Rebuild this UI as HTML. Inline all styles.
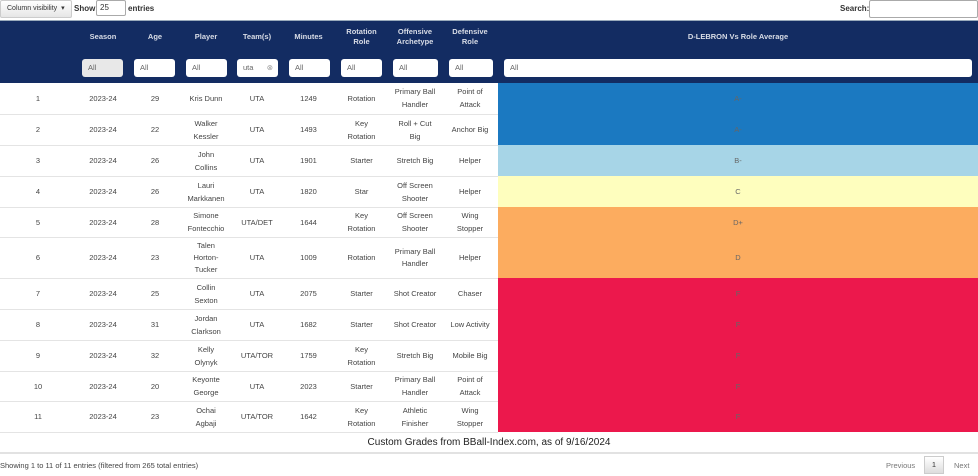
<!DOCTYPE html>
<html><head><meta charset="utf-8"><style>
*{box-sizing:border-box;margin:0;padding:0}
body{width:978px;height:476px;overflow:hidden;background:#fff;font-family:"Liberation Sans",Arial,sans-serif;font-size:8px;color:#333;position:relative}
.a{position:absolute}
.btn{left:0;top:0;width:72px;height:18px;border:1px solid #ccc;background:linear-gradient(#fff,#e6e6e6);border-radius:2px;font-size:7px;line-height:16px;padding-left:6px;color:#333}
.inp{background:#fff;border:1px solid #aaa;border-radius:2px}
.hdr{left:0;top:20px;width:978px;height:63px;background:#132c62;border-top:1px solid #9ab}
.h{color:#d8dce6;font-weight:bold;font-size:7.5px;text-align:center;line-height:10px}
.f{top:59px;height:18px;background:#fff;border-radius:3px;color:#666;font-size:7.5px;line-height:18px;padding-left:6px}
table{position:absolute;left:0;top:83px;border-collapse:collapse;table-layout:fixed;width:978px}
td{text-align:center;vertical-align:middle;font-size:7.5px;line-height:13px;color:#444;border-bottom:1px solid #e4e4e4;padding:0 1px;white-space:nowrap}
tr.t td{line-height:12px}
td.g{color:#666;border-bottom:none}
</style></head><body>
<div class="a btn">Column visibility &nbsp;▾</div>
<div class="a" style="left:74px;top:4px;font-size:8px;font-weight:bold">Show</div>
<div class="a inp" style="left:96px;top:0;width:30px;height:16px;font-size:8px;padding:2px 3px">25</div>
<div class="a" style="left:128px;top:4px;font-size:8px;font-weight:bold">entries</div>
<div class="a" style="left:840px;top:4px;font-size:8px;font-weight:bold">Search:</div>
<div class="a inp" style="left:869px;top:0;width:109px;height:18px"></div>
<div class="a hdr"></div>
<div class="a h" style="left:76px;top:32px;width:54px">Season</div>
<div class="a h" style="left:130px;top:32px;width:50px">Age</div>
<div class="a h" style="left:180px;top:32px;width:52px">Player</div>
<div class="a h" style="left:232px;top:32px;width:50px">Team(s)</div>
<div class="a h" style="left:282px;top:32px;width:53px">Minutes</div>
<div class="a h" style="left:335px;top:27px;width:53px">Rotation<br>Role</div>
<div class="a h" style="left:388px;top:27px;width:54px">Offensive<br>Archetype</div>
<div class="a h" style="left:442px;top:27px;width:56px">Defensive<br>Role</div>
<div class="a h" style="left:498px;top:32px;width:480px">D-LEBRON Vs Role Average</div>
<div class="a f" style="left:82px;width:41px;background:#e8e8e8">All</div>
<div class="a f" style="left:134px;width:41px">All</div>
<div class="a f" style="left:186px;width:41px">All</div>
<div class="a f" style="left:237px;width:41px">uta <span style="position:absolute;right:5px;color:#999">⊗</span></div>
<div class="a f" style="left:289px;width:41px">All</div>
<div class="a f" style="left:341px;width:41px">All</div>
<div class="a f" style="left:393px;width:45px">All</div>
<div class="a f" style="left:449px;width:44px">All</div>
<div class="a f" style="left:504px;width:468px">All</div>
<table>
<colgroup><col style="width:76px"><col style="width:54px"><col style="width:50px"><col style="width:52px"><col style="width:50px"><col style="width:53px"><col style="width:53px"><col style="width:54px"><col style="width:56px"><col style="width:480px"></colgroup>
<tr style="height:31px"><td>1</td><td>2023-24</td><td>29</td><td>Kris Dunn</td><td>UTA</td><td>1249</td><td>Rotation</td><td>Primary Ball<br>Handler</td><td>Point of<br>Attack</td><td class="g" style="background:#1b79c1">A-</td></tr>
<tr style="height:31px"><td>2</td><td>2023-24</td><td>22</td><td>Walker<br>Kessler</td><td>UTA</td><td>1493</td><td>Key<br>Rotation</td><td>Roll + Cut<br>Big</td><td>Anchor Big</td><td class="g" style="background:#1b79c1">A-</td></tr>
<tr style="height:31px"><td>3</td><td>2023-24</td><td>26</td><td>John<br>Collins</td><td>UTA</td><td>1901</td><td>Starter</td><td>Stretch Big</td><td>Helper</td><td class="g" style="background:#a7d5e7">B-</td></tr>
<tr style="height:31px"><td>4</td><td>2023-24</td><td>26</td><td>Lauri<br>Markkanen</td><td>UTA</td><td>1820</td><td>Star</td><td>Off Screen<br>Shooter</td><td>Helper</td><td class="g" style="background:#fefebe">C</td></tr>
<tr style="height:30px"><td>5</td><td>2023-24</td><td>28</td><td>Simone<br>Fontecchio</td><td>UTA/DET</td><td>1644</td><td>Key<br>Rotation</td><td>Off Screen<br>Shooter</td><td>Wing<br>Stopper</td><td class="g" style="background:#fcac5f">D+</td></tr>
<tr class="t" style="height:41px"><td>6</td><td>2023-24</td><td>23</td><td>Talen<br>Horton-<br>Tucker</td><td>UTA</td><td>1009</td><td>Rotation</td><td>Primary Ball<br>Handler</td><td>Helper</td><td class="g" style="background:#fcac5f">D</td></tr>
<tr style="height:31px"><td>7</td><td>2023-24</td><td>25</td><td>Collin<br>Sexton</td><td>UTA</td><td>2075</td><td>Starter</td><td>Shot Creator</td><td>Chaser</td><td class="g" style="background:#ec184c">F</td></tr>
<tr style="height:31px"><td>8</td><td>2023-24</td><td>31</td><td>Jordan<br>Clarkson</td><td>UTA</td><td>1682</td><td>Starter</td><td>Shot Creator</td><td>Low Activity</td><td class="g" style="background:#ec184c">F</td></tr>
<tr style="height:31px"><td>9</td><td>2023-24</td><td>32</td><td>Kelly<br>Olynyk</td><td>UTA/TOR</td><td>1759</td><td>Key<br>Rotation</td><td>Stretch Big</td><td>Mobile Big</td><td class="g" style="background:#ec184c">F</td></tr>
<tr style="height:30px"><td>10</td><td>2023-24</td><td>20</td><td>Keyonte<br>George</td><td>UTA</td><td>2023</td><td>Starter</td><td>Primary Ball<br>Handler</td><td>Point of<br>Attack</td><td class="g" style="background:#ec184c">F</td></tr>
<tr style="height:31px"><td>11</td><td>2023-24</td><td>23</td><td>Ochai<br>Agbaji</td><td>UTA/TOR</td><td>1642</td><td>Key<br>Rotation</td><td>Athletic<br>Finisher</td><td>Wing<br>Stopper</td><td class="g" style="background:#ec184c">F</td></tr>
</table>
<div class="a" style="left:0;top:437px;width:978px;text-align:center;font-size:10px;color:#222">Custom Grades from BBall-Index.com, as of 9/16/2024</div>
<div class="a" style="left:0;top:452px;width:978px;height:2px;background:#e2e2e2"></div>
<div class="a" style="left:0;top:461px;font-size:7.5px;color:#444">Showing 1 to 11 of 11 entries (filtered from 265 total entries)</div>
<div class="a" style="left:886px;top:461px;font-size:7.5px;color:#777">Previous</div>
<div class="a" style="left:924px;top:456px;width:20px;height:18px;border:1px solid #ccc;background:linear-gradient(#fff,#ddd);font-size:7.5px;text-align:center;line-height:16px">1</div>
<div class="a" style="left:954px;top:461px;font-size:7.5px;color:#777">Next</div>
</body></html>
